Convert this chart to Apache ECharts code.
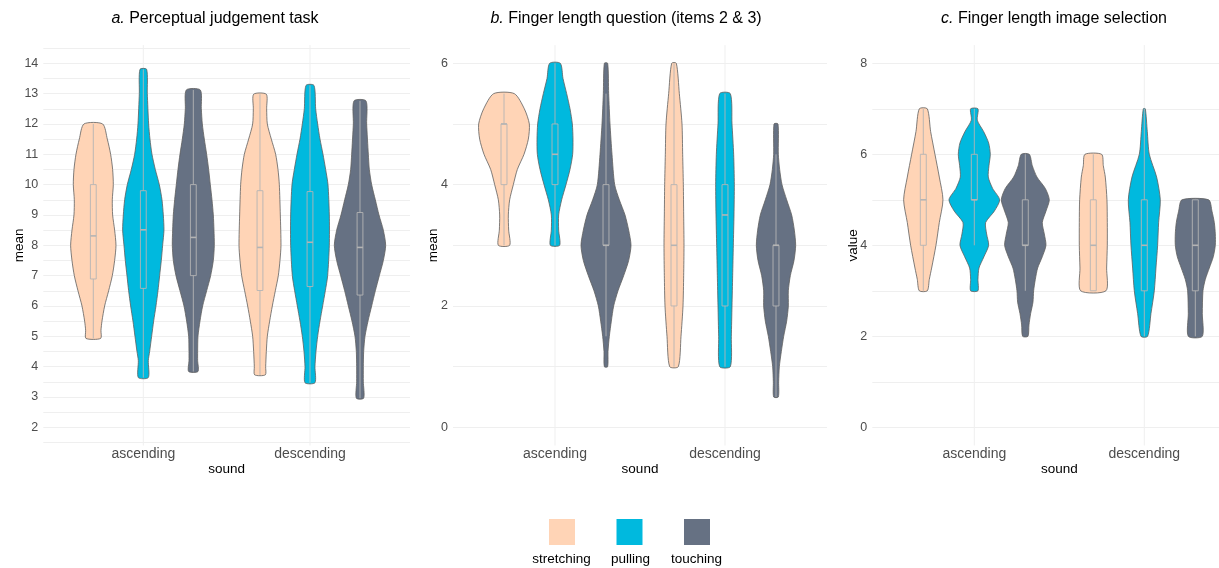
<!DOCTYPE html>
<html><head><meta charset="utf-8">
<script src="https://cdn.jsdelivr.net/npm/echarts@6/dist/echarts.min.js"></script>
<style>html,body{margin:0;padding:0;background:#fff}#c{width:1219px;height:568px}</style>
</head><body><div id="c"></div>
<script>
// ---------- data ----------
const categories = ['ascending', 'descending'];
const groups = ['stretching', 'pulling', 'touching'];
const panelLetters = ['a.', 'b.', 'c.'];
const panelTitles = ['Perceptual judgement task', 'Finger length question (items 2 & 3)', 'Finger length image selection'];
const yNames = ['mean', 'mean', 'value'];
const xName = 'sound';
const yTicksA = [2, 3, 4, 5, 6, 7, 8, 9, 10, 11, 12, 13, 14];
const yTicksB = [0, 2, 4, 6];
const yTicksC = [0, 2, 4, 6, 8];

// violin density profiles: [value, relative density width]
const A_str_asc = [[12,28],[11.5,42],[11,52],[10.5,58],[10,60],[9.5,57],[9,58],[8.5,64],[8,68],[7.5,64],[7,57],[6.5,46],[6,34],[5.5,26],[5.2,23],[4.93,22]];
const A_str_desc = [[12.98,19],[12.5,20],[12,22],[11.5,34],[11,47],[10.5,54],[10,58],[9,61],[8,63],[7.5,60],[7,55],[6.5,46],[6,37],[5.5,29],[5,22],[4.5,19],[4,17],[3.73,16]];
const A_pul_asc = [[13.8,10],[13,12],[12,16],[11.5,20],[11,26],[10.5,36],[10,48],[9.5,56],[9,60],[8.5,62],[8,58],[7.5,54],[7,49],[6.5,44],[6,38],[5.5,31],[5,25],[4.5,19],[4.2,15],[3.64,15]];
const A_pul_desc = [[13.27,12],[12.5,17],[12,23],[11.5,30],[11,39],[10.5,47],[10,54],[9,58],[8,58],[7,53],[6.5,46],[6,38],[5.5,30],[5,23],[4.5,18],[4,15],[3.47,15]];
const A_tou_asc = [[13.12,21],[12.5,24],[12,27],[11.5,33],[11,40],[10.5,46],[10,51],[9.5,56],[9,60],[8.5,62],[8,63],[7.5,60],[7,52],[6.5,40],[6,28],[5.5,20],[5,14],[4.5,13],[4.2,13],[3.84,14]];
const A_tou_desc = [[12.76,18],[12,20],[11,25],[10.5,28],[10,35],[9.5,46],[9,57],[8.5,70],[8,77],[7.5,70],[7,58],[6.5,46],[6,35],[5.5,24],[5,15],[4.5,11],[4,10],[3.5,10],[2.96,11]];

const B_str_asc = [[5.5,31],[5.25,61],[5,76],[4.75,73],[4.5,60],[4.25,40],[4,28],[3.75,17],[3.5,13],[3.25,14],[3,17]];
const B_str_desc = [[6,7],[5.5,16],[5,24],[4.5,26],[4,28],[3.5,29],[3,30],[2.5,29],[2,27],[1.5,21],[1,13]];
const B_pul_asc = [[6,16],[5.75,24],[5.5,35],[5.25,45],[5,52],[4.75,54],[4.5,53],[4.25,45],[4,33],[3.75,20],[3.5,11],[3.25,11],[3,14]];
const B_pul_desc = [[5.5,16],[5,21],[4.5,26],[4,28],[3.5,27],[3,25],[2.5,23],[2,21],[1.5,19],[1,16]];
const B_tou_asc = [[6,5],[5.5,8],[5,12],[4.5,18],[4,26],[3.75,40],[3.5,57],[3.25,68],[3,75],[2.75,68],[2.5,53],[2.25,36],[2,23],[1.75,16],[1.5,10],[1.25,6],[1,5]];
const B_tou_desc = [[5,6],[4.5,7],[4.25,11],[4,18],[3.75,32],[3.5,47],[3.25,55],[3,59],[2.75,54],[2.5,43],[2.25,37],[2,37],[1.75,32],[1.5,23],[1.25,16],[1,10],[0.75,8],[0.5,7]];

const C_str_asc = [[7,12],[6.5,22],[6,35],[5.5,48],[5,59],[4.5,48],[4,38],[3.5,25],[3.25,18],[3,12]];
const C_str_desc = [[6,25],[5.75,30],[5.5,36],[5,41],[4.5,42],[4,42],[3.5,40],[3,38]];
const C_pul_asc = [[7,11],[6.75,9],[6.5,28],[6.25,43],[6,48],[5.75,44],[5.5,42],[5.25,55],[5,76],[4.75,60],[4.5,34],[4.25,37],[4,43],[3.75,29],[3.5,14],[3.25,11],[3,11]];
const C_pul_desc = [[7,3],[6.5,9],[6,15],[5.5,37],[5,48],[4.5,43],[4,40],[3.5,35],[3,30],[2.5,20],[2,10]];
const C_tou_asc = [[6,12],[5.75,21],[5.5,35],[5.25,60],[5,72],[4.75,62],[4.5,51],[4.25,57],[4,62],[3.75,51],[3.5,37],[3.25,30],[3,25],[2.75,23],[2.5,16],[2.25,11],[2,8]];
const C_tou_desc = [[5,40],[4.75,50],[4.5,57],[4.25,60],[4,60],[3.75,54],[3.5,42],[3.25,30],[3,23],[2.5,21],[2,21]];

// box stats: [lower whisker, q1, median, q3, upper whisker] for ascending, descending
const A_box_str = [[4.93,6.89,8.31,10.0,12.0],[3.73,6.51,7.93,9.8,12.98]];
const A_box_pul = [[3.64,6.58,8.51,9.8,13.8],[3.47,6.64,8.10,9.77,13.27]];
const A_box_tou = [[3.84,7.0,8.26,10.0,13.12],[2.96,6.36,7.93,9.08,12.76]];
const B_box_str = [[3,4,5,5,5.5],[1,2,3,4,6]];
const B_box_pul = [[3,4,4.5,5,6],[1,2,3.5,4,5.5]];
const B_box_tou = [[1.5,3,3,4,5.5],[0.5,2,3,3,4.5]];
const C_box_str = [[3,4,5,6,7],[3,3,4,5,6]];
const C_box_pul = [[4,5,5,6,7],[2,3,4,5,7]];
const C_box_tou = [[3,4,4,5,6],[2,3,4,5,5]];

// ---------- styling / layout ----------
const FONT = '"Liberation Sans", Arial, Helvetica, sans-serif';
const colors = ['#FFD4B6', '#00B9DE', '#667183'];
const dodge = [-0.3, 0, 0.3];
const boxHalf = 0.0175;

const panels = [
  { profiles: [[A_str_asc, A_str_desc], [A_pul_asc, A_pul_desc], [A_tou_asc, A_tou_desc]],
    boxes: [A_box_str, A_box_pul, A_box_tou], ticks: yTicksA, widthScale: 1/500,
    min: 1.5, max: 14.5, interval: 0.5, ext: [1.4, 14.6],
    grid: { left: 43.3, top: 48.1, width: 366.7, height: 394.4 }, labelMargin: 5, xNameGap: 19.5, yNameGap: 17.5, titleX: 210 },
  { profiles: [[B_str_asc, B_str_desc], [B_pul_asc, B_pul_desc], [B_tou_asc, B_tou_desc]],
    boxes: [B_box_str, B_box_pul, B_box_tou], ticks: yTicksB, widthScale: 1/510,
    min: 0, max: 6, interval: 1, ext: [-0.3, 6.3],
    grid: { left: 453, top: 63.3, width: 374, height: 364 }, labelMargin: 20, xNameGap: 34.5, yNameGap: 12.5, titleX: 621 },
  { profiles: [[C_str_asc, C_str_desc], [C_pul_asc, C_pul_desc], [C_tou_asc, C_tou_desc]],
    boxes: [C_box_str, C_box_pul, C_box_tou], ticks: yTicksC, widthScale: 1/510,
    min: 0, max: 8, interval: 1, ext: [-0.4, 8.4],
    grid: { left: 872.3, top: 63.3, width: 374, height: 364 }, labelMargin: 20, xNameGap: 34.5, yNameGap: 12, titleX: 1049 }
];

function makeViolinRender(profiles, boxes, offset, scale) {
  return function (params, api) {
    const i = params.dataIndex;
    const cx = api.value(0) + offset;
    const prof = profiles[i];
    const right = prof.map(p => api.coord([cx + p[1] * scale, p[0]]));
    const left = prof.slice().reverse().map(p => api.coord([cx - p[1] * scale, p[0]]));
    const b = boxes[i];
    const pLow = api.coord([cx, b[0]]), pQ1 = api.coord([cx, b[1]]), pMed = api.coord([cx, b[2]]),
          pQ3 = api.coord([cx, b[3]]), pHigh = api.coord([cx, b[4]]);
    const xl = api.coord([cx - boxHalf, b[2]])[0], xr = api.coord([cx + boxHalf, b[2]])[0];
    const lineCol = '#b4b4b4';
    return {
      type: 'group',
      children: [
        { type: 'polygon', shape: { points: right.concat(left), smooth: 0.25 },
          style: { fill: api.visual('color'), stroke: '#5f5f5f', lineWidth: 0.8 } },
        { type: 'line', shape: { x1: pLow[0], y1: pLow[1], x2: pQ1[0], y2: pQ1[1] }, style: { stroke: lineCol, lineWidth: 0.9 } },
        { type: 'line', shape: { x1: pQ3[0], y1: pQ3[1], x2: pHigh[0], y2: pHigh[1] }, style: { stroke: lineCol, lineWidth: 0.9 } },
        { type: 'rect', shape: { x: xl, y: pQ3[1], width: xr - xl, height: pQ1[1] - pQ3[1] },
          style: { fill: 'none', stroke: lineCol, lineWidth: 0.9 } },
        { type: 'line', shape: { x1: xl, y1: pMed[1], x2: xr, y2: pMed[1] }, style: { stroke: lineCol, lineWidth: 1.6 } }
      ]
    };
  };
}

const grids = [], xAxes = [], yAxes = [], series = [], titles = [];
panels.forEach((P, pi) => {
  grids.push(Object.assign({ outerBoundsMode: 'none', containLabel: false }, P.grid));
  xAxes.push({
    type: 'value', gridIndex: pi, min: 0.4, max: 2.6, interval: 0.2,
    axisLine: { show: false }, axisTick: { show: false }, splitLine: { show: false },
    axisLabel: {
      margin: P.labelMargin, color: '#4d4d4d', fontSize: 14, fontFamily: FONT,
      formatter: v => { const k = Math.round(v); return (Math.abs(v - k) < 1e-6 && k >= 1 && k <= categories.length) ? categories[k - 1] : ''; }
    },
    name: xName, nameLocation: 'middle', nameGap: P.xNameGap, nameMoveOverlap: false,
    nameTextStyle: { color: '#000', fontSize: 13.5, fontFamily: FONT }
  });
  yAxes.push({
    type: 'value', gridIndex: pi, min: P.min, max: P.max, interval: P.interval,
    axisLine: { show: false }, axisTick: { show: false },
    splitLine: { show: true, lineStyle: { color: '#efefef', width: 1 } },
    axisLabel: {
      margin: 5, color: '#4d4d4d', fontSize: 12.5, fontFamily: FONT,
      formatter: v => { const k = Math.round(v); return (Math.abs(v - k) < 1e-6 && P.ticks.includes(k)) ? String(k) : ''; }
    },
    name: yNames[pi], nameLocation: 'middle', nameGap: P.yNameGap, nameMoveOverlap: false,
    nameTextStyle: { color: '#000', fontSize: 13.5, fontFamily: FONT }
  });
  // vertical major gridlines at category centres
  series.push({
    type: 'custom', name: 'xgrid' + pi, xAxisIndex: pi, yAxisIndex: pi, z: 1, silent: true,
    data: categories.map((c, i) => [i + 1]),
    encode: { x: 0 },
    renderItem: (params, api) => {
      const a = api.coord([api.value(0), P.ext[0]]), b = api.coord([api.value(0), P.ext[1]]);
      return { type: 'line', shape: { x1: a[0], y1: a[1], x2: b[0], y2: b[1] }, style: { stroke: '#efefef', lineWidth: 1 } };
    }
  });
  groups.forEach((g, gi) => {
    series.push({
      type: 'custom', name: g, xAxisIndex: pi, yAxisIndex: pi, z: 2,
      itemStyle: { color: colors[gi] },
      data: categories.map((c, i) => [i + 1, P.boxes[gi][i][2]]),
      encode: { x: 0, y: 1 },
      renderItem: makeViolinRender(P.profiles[gi], P.boxes[gi], dodge[gi], P.widthScale)
    });
  });
  titles.push({
    text: '{i|' + panelLetters[pi] + '} ' + panelTitles[pi],
    left: P.titleX, top: 6, textAlign: 'center',
    textStyle: { fontSize: 16, fontWeight: 'normal', color: '#000', fontFamily: FONT,
      rich: { i: { fontStyle: 'italic', fontSize: 16, color: '#000', fontFamily: FONT } } }
  });
});

const legendLabelX = [561.5, 630.5, 696.5];
const option = {
  animation: false,
  backgroundColor: '#ffffff',
  title: titles,
  grid: grids,
  xAxis: xAxes,
  yAxis: yAxes,
  legend: {
    data: groups, left: 549, top: 519, padding: 0, itemWidth: 26, itemHeight: 26, itemGap: 41.5,
    icon: 'rect', selectedMode: false, formatter: () => '',
    itemStyle: { borderWidth: 0 }, textStyle: { fontSize: 1 }
  },
  graphic: groups.map((g, gi) => ({
    type: 'text', x: legendLabelX[gi], y: 559, silent: true,
    style: { text: g, align: 'center', verticalAlign: 'middle', fill: '#000', fontSize: 13.5, fontFamily: FONT }
  })),
  series: series
};

const chart = echarts.init(document.getElementById('c'), null, { renderer: 'canvas' });
chart.setOption(option);
</script>
</body></html>
